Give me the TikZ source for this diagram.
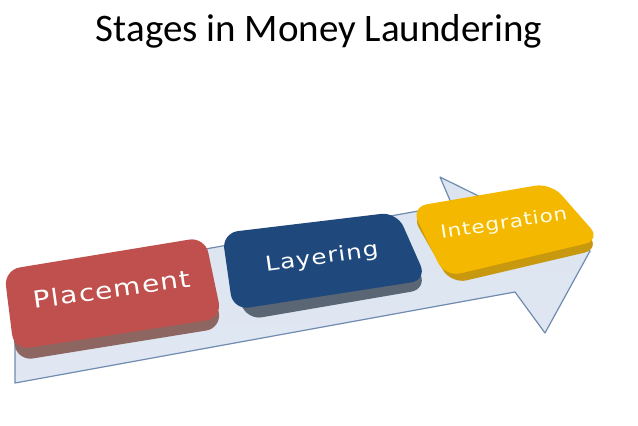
\documentclass[tikz,border=0pt]{standalone}
\usepackage{fontspec}
\setmainfont{Carlito}
\newfontfamily\boxfont[FakeStretch=1.2,LetterSpace=5]{DejaVu Sans}
\usetikzlibrary{positioning}
\definecolor{Banda}{HTML}{CCD8EA}
\definecolor{BandaBorde}{HTML}{6F8BB0}
\definecolor{Rojo}{HTML}{C0504D}
\definecolor{RojoBase}{HTML}{8E6661}
\definecolor{Azul}{HTML}{1F497D}
\definecolor{AzulBase}{HTML}{5B6675}
\definecolor{Oro}{HTML}{F5B800}
\definecolor{OroBase}{HTML}{C8980E}

\begin{document}
\begin{tikzpicture}[
  x=1pt,y=-1pt,
  every node/.style={inner sep=0pt},
  band/.style={top color=Banda!70!white,bottom color=Banda!60!white,draw=BandaBorde,line width=1.2pt,line join=round},
  slab/.style={rounded corners=16pt},
  face/.style={rounded corners=16pt},
  stage/.style={text=white}
]
  \useasboundingbox (0,0) rectangle (638,426);
  \node[font=\fontsize{39}{45}\selectfont] (title) at (319,31) {Stages in Money Laundering};

  % the arrow behind the boxes
  \shade[band]
    (15,283) -- (452,205) -- (440,177) -- (590,251) -- (545,333) -- (515,292) -- (15,383) -- cycle;

  % Placement
  \fill[slab,RojoBase] (5,279) -- (205,246) -- (222,328) -- (17,361) -- cycle;
  \fill[face,Rojo] (4,270) -- (205,237) -- (222,318) -- (14,350) -- cycle;
  \node[stage,rotate=8,font=\boxfont\fontsize{23.5}{27}\selectfont] (placement) at (112,289) {Placement};

  % Layering
  \fill[slab,AzulBase] (223,242) -- (397,221) -- (427,289) -- (246,320) -- cycle;
  \fill[face,Azul] (222,233) -- (397,212) -- (427,280) -- (233,310) -- cycle;
  \node[stage,rotate=8,font=\boxfont\fontsize{20.5}{24}\selectfont] (layering) at (322,258) {Layering};

  % Integration
  \fill[slab,OroBase] (411,214) -- (551,190) -- (600,249) -- (451,284) -- cycle;
  \fill[face,Oro] (411,207) -- (551,183) -- (601,240) -- (445,277) -- cycle;
  \node[stage,rotate=9,text=white!90!yellow,font=\boxfont\fontsize{18}{22}\selectfont] (integration) at (504,224) {Integration};
\end{tikzpicture}
\end{document}
